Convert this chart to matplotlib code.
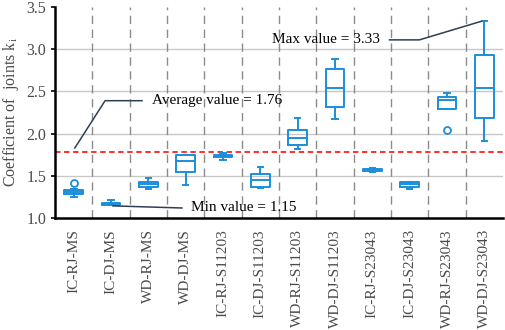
import numpy as np
import matplotlib
matplotlib.use('Agg')
import matplotlib.pyplot as plt

plt.rcParams['font.family'] = ['Liberation Serif', 'DejaVu Serif']

labels = ['IC-RJ-MS', 'IC-DJ-MS', 'WD-RJ-MS', 'WD-DJ-MS',
          'IC-RJ-S11203', 'IC-DJ-S11203', 'WD-RJ-S11203', 'WD-DJ-S11203',
          'IC-RJ-S23043', 'IC-DJ-S23043', 'WD-RJ-S23043', 'WD-DJ-S23043']
whislo = [1.25, 1.15, 1.35, 1.39, 1.69, 1.36, 1.82, 2.17, 1.55, 1.35, 2.29, 1.91]
q1 = [1.29, 1.16, 1.37, 1.545, 1.72, 1.365, 1.86, 2.31, 1.555, 1.37, 2.29, 2.19]
med = [1.31, 1.17, 1.40, 1.675, 1.733, 1.45, 1.945, 2.54, 1.57, 1.40, 2.40, 2.54]
q3 = [1.335, 1.185, 1.43, 1.75, 1.745, 1.525, 2.04, 2.76, 1.585, 1.43, 2.43, 2.93]
whishi = [1.35, 1.21, 1.48, 1.75, 1.77, 1.60, 2.19, 2.88, 1.59, 1.43, 2.48, 3.33]
fliers = [[1.42], [], [], [], [], [], [], [], [], [], [2.04], []]

avg_value = 1.78
avg_text = 'Average value = 1.76'
min_text = 'Min value = 1.15'
max_text = 'Max value = 3.33'

blue = '#1b8fd8'
line_col = '#2e3f52'
txt_gray = '#4a4a4a'

stats = []
for i in range(len(labels)):
    stats.append(dict(whislo=whislo[i], q1=q1[i], med=med[i], q3=q3[i],
                      whishi=whishi[i], fliers=fliers[i], label=labels[i]))

fig = plt.figure(figsize=(5.05, 3.3), dpi=100)
ax = fig.add_axes([0.109, 0.339, 0.887, 0.64])

pos = np.arange(1, len(labels) + 1)
ax.bxp(stats, positions=pos, widths=0.5, capwidths=0.15,
       boxprops=dict(color=blue, linewidth=1.4),
       whiskerprops=dict(color=blue, linewidth=1.4),
       capprops=dict(color=blue, linewidth=1.4),
       medianprops=dict(color=blue, linewidth=1.4),
       flierprops=dict(marker='o', markerfacecolor='none', markeredgecolor=blue,
                       markersize=5, markeredgewidth=1.3),
       zorder=3)

ax.set_xlim(0.5, len(labels) + 0.5)
ax.set_ylim(1.0, 3.5)
ax.set_yticks([1.0, 1.5, 2.0, 2.5, 3.0, 3.5])
ax.set_yticklabels(['1.0', '1.5', '2.0', '2.5', '3.0', '3.5'], fontsize=11.5,
                   color=txt_gray)
ax.set_xticks(pos)
ax.set_xticklabels(labels, rotation=90, fontsize=11, color=txt_gray)
ax.tick_params(axis='x', length=0, pad=8)
ax.tick_params(axis='y', length=3, width=1.2)

for y in [1.5, 2.0, 2.5, 3.0]:
    ax.axhline(y, color='#c8c8c8', linewidth=1.0, zorder=1)
for x in pos[:-1] + 0.5:
    ax.axvline(x, color='#8c8c8c', linewidth=1.0, linestyle=(0, (6, 4)), zorder=1)

ax.axhline(avg_value, color='#ff2020', linewidth=1.3, linestyle=(0, (3, 2)), zorder=2)

ax.spines['top'].set_visible(False)
ax.spines['right'].set_visible(False)
ax.spines['left'].set_linewidth(1.8)
ax.spines['bottom'].set_linewidth(1.8)

ax.set_ylabel('Coefficient of  joints k$_\\mathregular{i}$', fontsize=11.5,
              labelpad=4, color=txt_gray)

# annotations
ax.plot([1.03, 1.84, 2.83], [1.83, 2.39, 2.39], color=line_col, linewidth=1.1, zorder=4)
ax.text(3.1, 2.39, avg_text, fontsize=11, va='center', ha='left')
ax.plot([2.05, 3.9], [1.145, 1.12], color=line_col, linewidth=1.1, zorder=4)
ax.text(4.15, 1.13, min_text, fontsize=11, va='center', ha='left')
ax.plot([9.46, 10.26, 11.92], [3.11, 3.11, 3.33], color=line_col, linewidth=1.1, zorder=4)
ax.text(6.3, 3.12, max_text, fontsize=11, va='center', ha='left')

fig.savefig('out.png', dpi=100)
